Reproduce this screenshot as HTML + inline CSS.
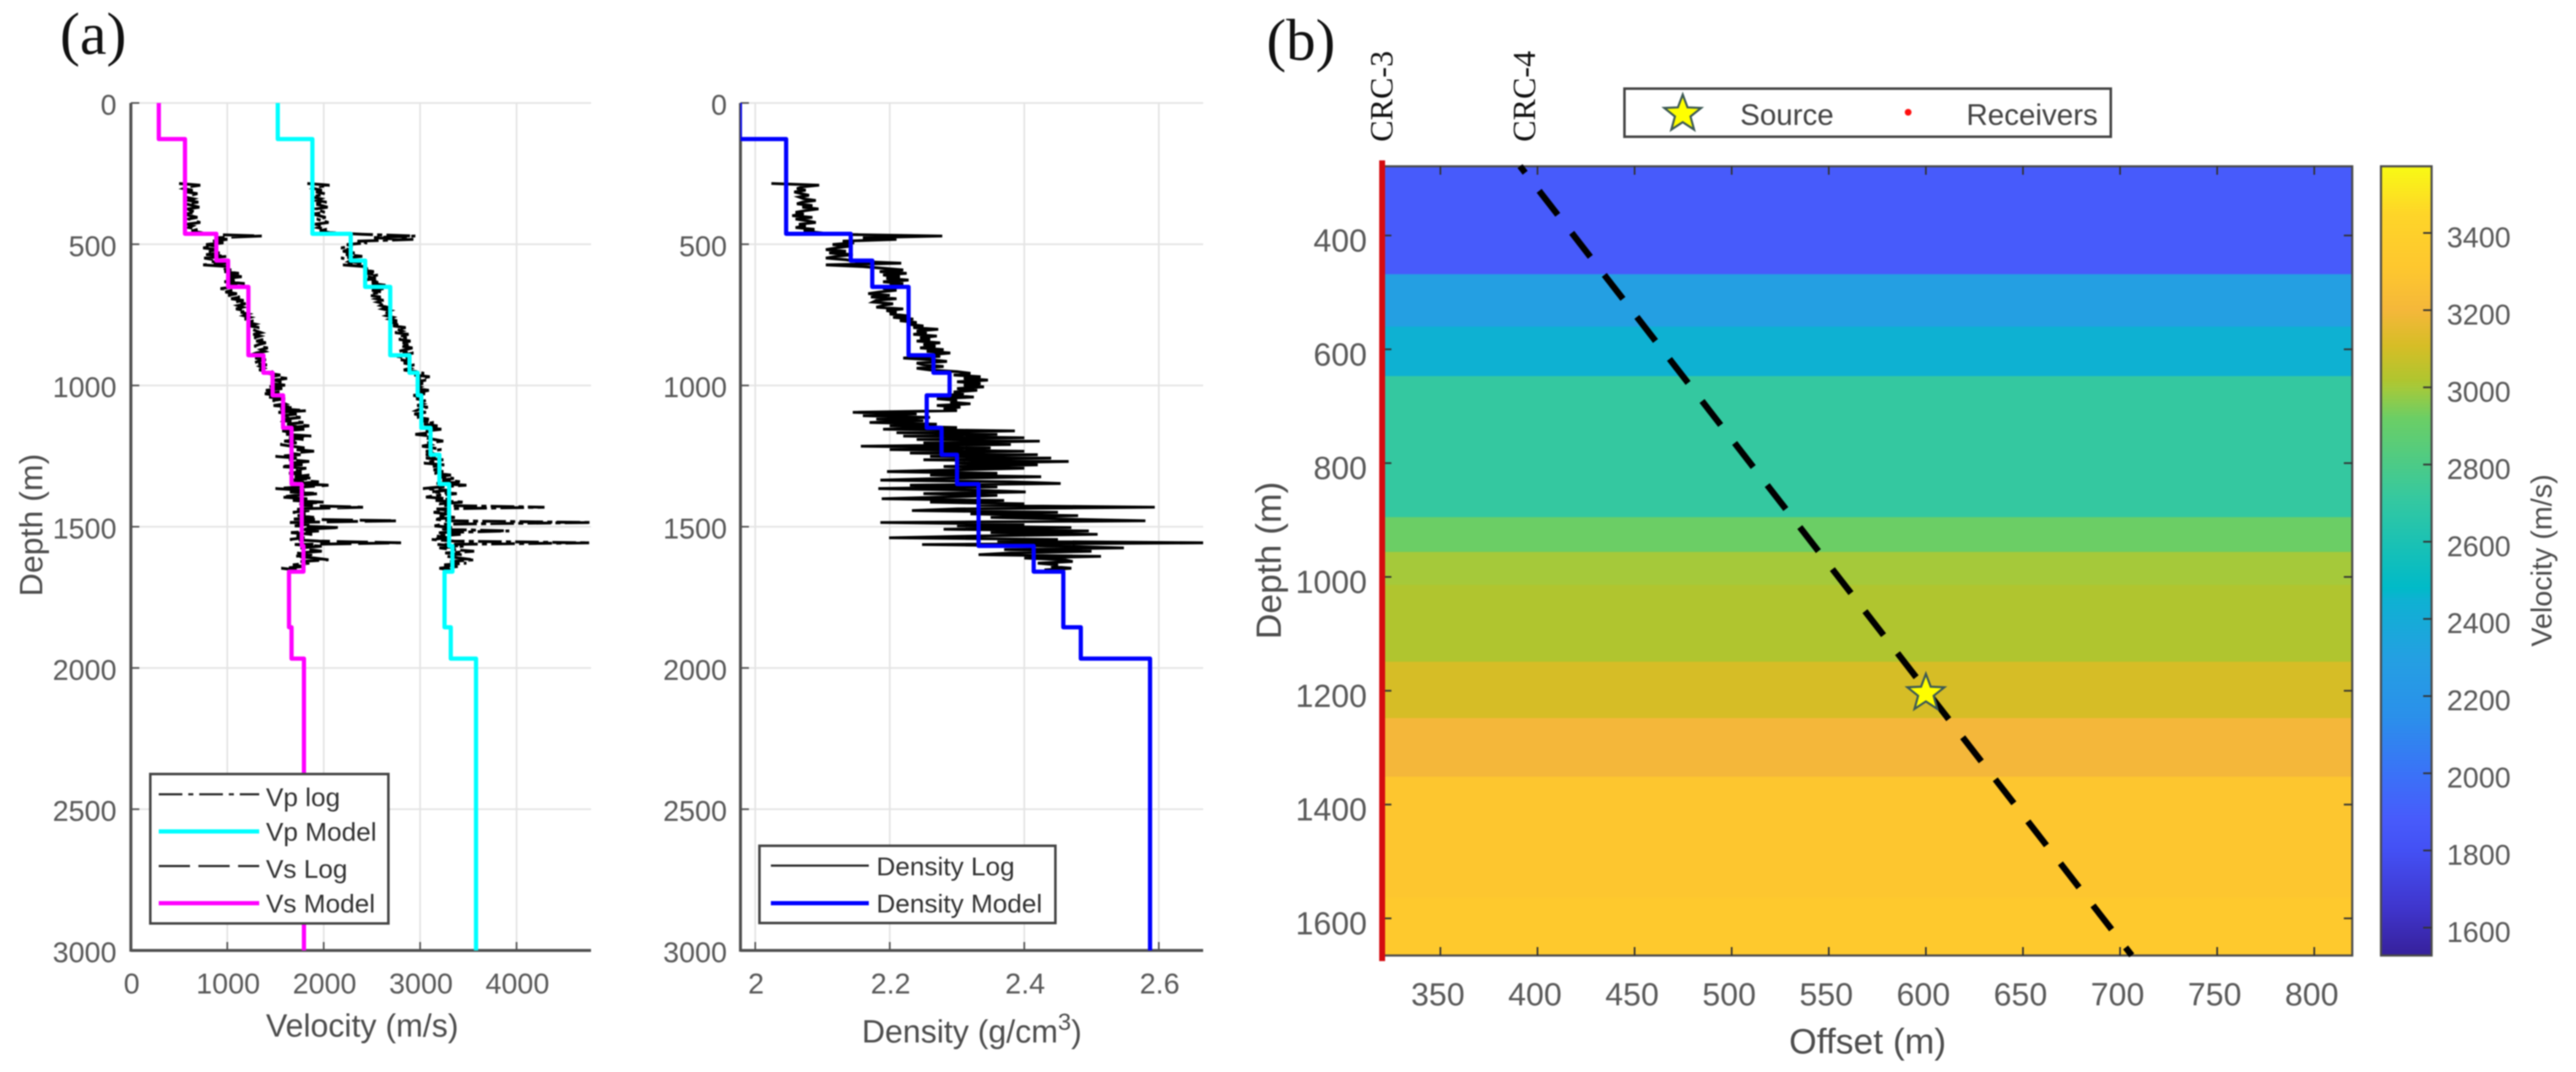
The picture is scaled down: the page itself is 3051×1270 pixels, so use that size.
<!DOCTYPE html>
<html lang="en">
<head>
<meta charset="utf-8">
<title>Velocity and density logs with survey model</title>
<style>
html,body{margin:0;padding:0;background:#fff;}
#figure{display:block;width:3051px;height:1270px;filter:blur(0.8px);}
text{font-family:"Liberation Sans",sans-serif;}
.serif{font-family:"Liberation Serif",serif;fill:#111;}
.tick{font-size:34px;fill:#595959;}
.title{font-size:38px;fill:#4d4d4d;}
.leg{font-size:31px;fill:#333;}
</style>
</head>
<body>
<svg id="figure" xmlns="http://www.w3.org/2000/svg" width="3051" height="1270" viewBox="0 0 3051 1270">
  <defs>
    <clipPath id="clip-vel"><rect x="155" y="110" width="545" height="1020"/></clipPath>
    <clipPath id="clip-den"><rect x="877" y="110" width="548" height="1020"/></clipPath>
    <linearGradient id="cbar-grad" x1="0" y1="1" x2="0" y2="0"></linearGradient>
  </defs>
  <rect x="0" y="0" width="3051" height="1270" fill="#fff"/>
  <text class="serif" x="71" y="64" font-size="71">(a)</text>
  <text class="serif" x="1500" y="71" font-size="70">(b)</text>

  <g id="vel-axes"></g>
  <text class="title" x="429" y="1228" text-anchor="middle">Velocity (m/s)</text>
  <text class="title" transform="translate(50,622) rotate(-90)" text-anchor="middle">Depth (m)</text>
  <g>
    <rect x="178" y="917" width="282" height="177" fill="#fff" stroke="#444" stroke-width="3"/>
    <line x1="188" y1="941" x2="307" y2="941" stroke="#222" stroke-width="2.5" stroke-dasharray="28 7 6 7"/>
    <text class="leg" x="315" y="955">Vp log</text>
    <line x1="188" y1="985" x2="307" y2="985" stroke="#00ffff" stroke-width="5"/>
    <text class="leg" x="315" y="996">Vp Model</text>
    <line x1="188" y1="1026" x2="307" y2="1026" stroke="#222" stroke-width="2.5" stroke-dasharray="37 10"/>
    <text class="leg" x="315" y="1040">Vs Log</text>
    <line x1="188" y1="1070" x2="307" y2="1070" stroke="#ff00ff" stroke-width="5"/>
    <text class="leg" x="315" y="1081">Vs Model</text>
  </g>

  <g id="den-axes"></g>
  <text class="title" x="1151" y="1235" text-anchor="middle">Density (g/cm<tspan font-size="28" dy="-15">3</tspan><tspan dy="15">)</tspan></text>
  <g>
    <rect x="899.5" y="1002" width="350.5" height="91.5" fill="#fff" stroke="#444" stroke-width="3"/>
    <line x1="913" y1="1025.5" x2="1029" y2="1025.5" stroke="#222" stroke-width="2.5"/>
    <text class="leg" x="1038" y="1037">Density Log</text>
    <line x1="913" y1="1070" x2="1029" y2="1070" stroke="#0000ff" stroke-width="5"/>
    <text class="leg" x="1038" y="1081">Density Model</text>
  </g>

  <g id="heat-axes"></g>
  <text class="title" style="font-size:42px" x="2212" y="1248" text-anchor="middle">Offset (m)</text>
  <text class="title" style="font-size:42px" transform="translate(1517,664) rotate(-90)" text-anchor="middle">Depth (m)</text>
  <text class="serif" font-size="38" transform="translate(1649,168) rotate(-90)">CRC-3</text>
  <text class="serif" font-size="38" transform="translate(1818,168) rotate(-90)">CRC-4</text>
  <g id="survey-legend">
    <rect x="1924" y="105" width="576" height="57" fill="#fff" stroke="#444" stroke-width="3"/>
    <text class="title" style="font-size:35px;fill:#444" x="2061" y="148">Source</text>
    <circle cx="2260" cy="133" r="4" fill="#ff1010"/>
    <text class="title" style="font-size:35px;fill:#444" x="2329" y="148">Receivers</text>
  </g>

  <g id="cbar"></g>
  <text class="title" style="font-size:34px" transform="translate(3022,664) rotate(-90)" text-anchor="middle">Velocity (m/s)</text>
</svg>

<script>
// ----- Layered model: tops of each layer (m) and values
const modelLayerTops = [0,128,463,558,651,893,955,1035,1150,1245,1349,1568,1659,1856,1967];
const vpModel = [1524,1883,2280,2430,2690,2890,2975,3012,3108,3200,3300,3335,3253,3318,3580];
const vsModel = [290,561,886,1009,1219,1375,1470,1579,1666,1666,1772,1790,1640,1666,1795];
const densityModel = [1.977,2.046,2.142,2.174,2.228,2.265,2.289,2.255,2.277,2.30,2.332,2.414,2.458,2.484,2.587];

// ----- Well logs, sampled every logDepthStep metres from logDepthStart
const logDepthStart = 285;
const logDepthStep = 6;
const vpLog = [
1830,2060,1950,1900,1980,1920,2010,1950,1880,1970,
1930,2030,1900,1980,2040,1920,1960,2010,1890,1950,
2020,1930,1990,2050,1910,1980,1940,2030,1960,2060,
2400,2950,2500,2930,2350,2450,2240,2300,2180,2260,
2200,2320,2230,2400,2180,2290,2260,2390,2200,2430,
2470,2400,2520,2440,2560,2460,2540,2420,2580,2500,
2640,2530,2620,2500,2600,2520,2480,2590,2540,2620,
2560,2630,2590,2660,2610,2690,2640,2700,2650,2720,
2680,2760,2700,2790,2720,2850,2760,2810,2740,2880,
2790,2860,2780,2900,2820,2880,2800,2920,2850,2780,
2930,2840,2760,2880,2800,2900,2830,2940,2860,2900,
2830,2960,3040,2940,3100,2980,3060,2960,3030,2950,
3000,2950,3090,2990,3050,2930,3020,2960,3060,2980,
3030,2970,3080,3000,2960,3060,2940,3030,2970,3090,
3000,3140,3040,3180,3020,3220,3060,3110,2950,3120,
3050,3140,3240,3070,3110,3020,3130,3220,3060,3120,
3060,3160,3060,3240,3120,3040,3250,3130,3220,3140,
3240,3150,3320,3180,3350,3230,3430,3170,3480,3220,
3030,3280,3120,3380,3180,3060,3300,3160,3460,3200,
3240,4290,3170,3310,3140,3280,3200,3360,3150,3290,
4772,3240,3150,3330,3210,3925,3180,3420,3170,3290,
3120,3350,4755,3180,3450,3200,3340,3560,3260,3430,
3280,3400,3560,3310,3480,3250,3390,3200,3330,3280];
const vsLog = [
500,720,600,550,640,580,690,620,560,650,
600,700,570,640,710,590,620,680,560,610,
690,600,650,720,580,640,600,700,630,727,
800,1357,900,1000,850,960,780,880,750,900,
810,920,780,1000,760,870,830,1010,750,1020,
950,1040,970,1120,1020,1150,990,1080,970,1180,
1010,1060,930,1050,980,1100,1010,1130,1040,1170,
1080,1190,1110,1160,1090,1200,1140,1220,1170,1240,
1180,1270,1210,1290,1230,1330,1260,1300,1350,1270,
1340,1280,1370,1300,1400,1330,1280,1420,1350,1390,
1300,1250,1360,1290,1400,1320,1270,1410,1340,1380,
1330,1470,1420,1550,1450,1620,1480,1560,1450,1600,
1420,1570,1400,1540,1390,1520,1430,1600,1470,1560,
1600,1480,1690,1550,1820,1530,1720,1560,1760,1600,
1580,1790,1620,1850,1660,1800,1570,1700,1610,1870,
1640,1790,1590,1720,1550,1660,1800,1700,1900,1650,
1760,1500,1720,1640,1850,1620,1780,1550,1820,1690,
1770,1640,1850,1700,1880,1650,1950,1720,2050,1800,
1500,1800,1650,1950,1700,1560,1830,1680,2000,1750,
1800,2408,1700,1850,1680,1810,1730,1900,1690,2758,
1650,1850,1700,2172,1750,1950,1660,1880,1720,1800,
1650,1950,2802,1700,1980,1760,1850,1980,1720,1880,
1700,1900,2050,1760,1850,1680,1790,1560,1720,1650];
const densityLog = [
2.024,2.095,2.07,2.062,2.075,2.058,2.068,2.08,2.065,2.072,
2.09,2.07,2.062,2.085,2.07,2.094,2.075,2.06,2.072,2.055,
2.085,2.06,2.078,2.09,2.065,2.075,2.06,2.088,2.072,2.095,
2.12,2.278,2.16,2.21,2.13,2.147,2.115,2.14,2.12,2.105,
2.135,2.11,2.145,2.12,2.105,2.135,2.15,2.217,2.105,2.16,
2.19,2.22,2.185,2.225,2.19,2.215,2.195,2.228,2.19,2.22,
2.2,2.225,2.19,2.21,2.185,2.168,2.2,2.172,2.21,2.18,
2.175,2.205,2.19,2.18,2.22,2.195,2.21,2.2,2.225,2.205,
2.235,2.215,2.24,2.225,2.25,2.235,2.272,2.24,2.255,2.235,
2.27,2.245,2.26,2.24,2.275,2.25,2.268,2.245,2.28,2.255,
2.29,2.26,2.275,2.22,2.262,2.285,2.24,2.25,2.28,2.24,
2.26,2.3,2.32,2.295,2.335,2.31,2.346,2.3,2.335,2.31,
2.34,2.3,2.33,2.295,2.31,2.285,2.325,2.27,2.3,2.29,
2.32,2.27,2.305,2.28,2.3,2.145,2.24,2.16,2.26,2.18,
2.25,2.17,2.27,2.2,2.3,2.19,2.386,2.21,2.36,2.22,
2.4,2.24,2.423,2.25,2.38,2.157,2.35,2.2,2.4,2.23,
2.42,2.26,2.44,2.25,2.466,2.3,2.42,2.28,2.4,2.3,
2.196,2.36,2.26,2.425,2.28,2.186,2.38,2.454,2.23,2.36,
2.183,2.33,2.402,2.25,2.36,2.28,2.188,2.37,2.26,2.4,
2.33,2.594,2.3,2.233,2.45,2.32,2.48,2.35,2.46,2.58,
2.186,2.4,2.3,2.47,2.28,2.496,2.35,2.509,2.33,2.199,
2.45,2.36,2.67,2.248,2.46,2.548,2.37,2.5,2.38,2.332,
2.514,2.4,2.46,2.472,2.42,2.45,2.44,2.47,2.43,2.45];

// ----- Tick labels
const depthTicks = [0,500,1000,1500,2000,2500,3000];
const velocityTicks = [0,1000,2000,3000,4000];
const densityTicks = [2,2.2,2.4,2.6];
const offsetTicks = [350,400,450,500,550,600,650,700,750,800];
const modelDepthTicks = [400,600,800,1000,1200,1400,1600];
const colorbarTicks = [1600,1800,2000,2200,2400,2600,2800,3000,3200,3400];

// ----- Velocity model image (panel b)
const heatLayerTops = [278,468,560,647,895,956,1014,1149,1248,1351,1564];
const heatLayerVelocity = [1883,2295,2450,2710,2920,3000,3020,3108,3200,3300,3335];
const heatBottomDepth = 1665;
const wellOffset = [391,706];
const wellDepth = [278,1665];
const receiverOffset = [320,320];
const receiverDepth = [268,1675];
const sourceOffset = [600];
const sourceDepth = [1200];

// ----- Colormap: velocity -> colour
const colormapVelocity = [1528,1650,1800,1883,2000,2150,2295,2450,2480,2710,2920,3000,3020,3108,3200,3300,3335,3450,3573];
const colormapColor = ['#36209a','#3f35cc','#4350f4','#475bfb','#3a72f7','#2a90ea','#249fe2','#0eb1d2','#00bac8','#34c8a0','#6bce65','#a5c93a','#b0c52f','#d6bd26','#f4b73a','#fdc62f','#fec92d','#fed528','#f8fa14'];

const SVGNS = 'http://www.w3.org/2000/svg';
function linear(d0, d1, r0, r1) {
  return function (v) { return r0 + (v - d0) * (r1 - r0) / (d1 - d0); };
}
const velX = linear(0, 4000, 155, 611.8);
const logY = linear(0, 3000, 122, 1126);
const denX = linear(2, 2.6, 894.5, 1372.5);
const offX = linear(350, 800, 1706, 2741);
const modelY = linear(400, 1600, 279, 1088);
const cbarY = linear(1600, 3400, 1099, 276);

function hexToRgb(h) {
  return [parseInt(h.slice(1,3),16), parseInt(h.slice(3,5),16), parseInt(h.slice(5,7),16)];
}
function colorFor(v) {
  const n = colormapVelocity.length;
  if (v <= colormapVelocity[0]) return colormapColor[0];
  if (v >= colormapVelocity[n-1]) return colormapColor[n-1];
  let i = 0;
  while (colormapVelocity[i+1] < v) i++;
  const t = (v - colormapVelocity[i]) / (colormapVelocity[i+1] - colormapVelocity[i]);
  const a = hexToRgb(colormapColor[i]);
  const b = hexToRgb(colormapColor[i+1]);
  return 'rgb(' + a.map(function (c, k) { return Math.round(c + (b[k]-c)*t); }).join(',') + ')';
}
function make(tag, attrs, parent) {
  const el = document.createElementNS(SVGNS, tag);
  for (const k in attrs) el.setAttribute(k, attrs[k]);
  parent.appendChild(el);
  return el;
}
function stepPoints(values, xFn) {
  const pts = [];
  for (let i = 0; i < values.length; i++) {
    const y0 = logY(modelLayerTops[i]);
    const y1 = logY(i + 1 < values.length ? modelLayerTops[i+1] : 3000);
    pts.push(xFn(values[i]).toFixed(1) + ',' + y0.toFixed(1));
    pts.push(xFn(values[i]).toFixed(1) + ',' + y1.toFixed(1));
  }
  return pts.join(' ');
}
function logPoints(values, xFn) {
  return values.map(function (v, i) {
    return xFn(v).toFixed(1) + ',' + logY(logDepthStart + i * logDepthStep).toFixed(1);
  }).join(' ');
}
function starPoints(cx, cy, r) {
  const pts = [];
  for (let i = 0; i < 10; i++) {
    const rad = i % 2 ? r * 0.42 : r;
    const a = -Math.PI / 2 + i * Math.PI / 5;
    pts.push((cx + rad * Math.cos(a)).toFixed(1) + ',' + (cy + rad * Math.sin(a)).toFixed(1));
  }
  return pts.join(' ');
}

// Shared axes for the log panels
function drawLogAxes(parent, left, right, xTicks, xFn, labelRight) {
  depthTicks.forEach(function (d) {
    const y = logY(d);
    if (d !== 3000) {
      const g = make('line', {x1:left, x2:right, y1:y, y2:y, stroke:'#e4e4e4', 'stroke-width':2}, parent);
      
      
    }
    const t = make('line', {x1:left, x2:left+10, y1:y, y2:y, stroke:'#555', 'stroke-width':2}, parent);
    
    
    const lab = make('text', {x:labelRight, y:y+14, 'text-anchor':'end', class:'tick'}, parent);
    lab.textContent = String(d);
    
    
  });
  xTicks.forEach(function (v) {
    const x = xFn(v);
    if (x > left + 1) {
      const g = make('line', {x1:x, x2:x, y1:122, y2:1126, stroke:'#e4e4e4', 'stroke-width':2}, parent);
      
      
    }
    const t = make('line', {x1:x, x2:x, y1:1126, y2:1116, stroke:'#555', 'stroke-width':2}, parent);
    
    
    const lab = make('text', {x:x+1, y:1177, 'text-anchor':'middle', class:'tick'}, parent);
    lab.textContent = String(v);
    
    
  });
  const ya = make('line', {x1:left, x2:left, y1:122, y2:1127.5, stroke:'#4f4f4f', 'stroke-width':3.5}, parent);
  
  
  const xa = make('line', {x1:left, x2:right, y1:1126, y2:1126, stroke:'#4f4f4f', 'stroke-width':3.5}, parent);
  
  
}

// Panel a-1: velocity
const velAxes = document.getElementById('vel-axes');
drawLogAxes(velAxes, 155, 700, velocityTicks, velX, 138);
const velPlot = make('g', {'clip-path':'url(#clip-vel)'}, velAxes);


const vpLogLine = make('polyline', {points:logPoints(vpLog, velX), fill:'none', stroke:'#000', 'stroke-width':3.4, 'stroke-dasharray':'28 5 6 5'}, velPlot);


const vsLogLine = make('polyline', {points:logPoints(vsLog, velX), fill:'none', stroke:'#000', 'stroke-width':3.4, 'stroke-dasharray':'37 8'}, velPlot);


const vpLine = make('polyline', {points:stepPoints(vpModel, velX), fill:'none', stroke:'#00ffff', 'stroke-width':5, 'stroke-linejoin':'round'}, velPlot);


const vsLine = make('polyline', {points:stepPoints(vsModel, velX), fill:'none', stroke:'#ff00ff', 'stroke-width':5, 'stroke-linejoin':'round'}, velPlot);



// Panel a-2: density
const denAxes = document.getElementById('den-axes');
drawLogAxes(denAxes, 877, 1425, densityTicks, denX, 861);
const denPlot = make('g', {'clip-path':'url(#clip-den)'}, denAxes);


const denLogLine = make('polyline', {points:logPoints(densityLog, denX), fill:'none', stroke:'#000', 'stroke-width':3.3}, denPlot);


const denLine = make('polyline', {points:stepPoints(densityModel, denX), fill:'none', stroke:'#0000ff', 'stroke-width':5, 'stroke-linejoin':'round'}, denPlot);



// Panel b: layered model
const heatAxes = document.getElementById('heat-axes');
const heatLeft = 1638, heatRight = 2786, heatTop = 197, heatBottom = 1132;
heatLayerTops.forEach(function (top, i) {
  const bottom = i + 1 < heatLayerTops.length ? heatLayerTops[i+1] : heatBottomDepth;
  const y0 = modelY(top), y1 = modelY(bottom);
  const r = make('rect', {x:heatLeft, y:y0, width:heatRight-heatLeft, height:y1-y0+0.5, fill:colorFor(heatLayerVelocity[i])}, heatAxes);
  
  
});
const frame = make('rect', {x:heatLeft, y:heatTop, width:heatRight-heatLeft, height:heatBottom-heatTop, fill:'none', stroke:'#4a4a4a', 'stroke-width':2.5}, heatAxes);


offsetTicks.forEach(function (v) {
  const x = offX(v);
  const t1 = make('line', {x1:x, x2:x, y1:heatTop, y2:heatTop+10, stroke:'#333', 'stroke-width':2}, heatAxes);
  
  
  const t2 = make('line', {x1:x, x2:x, y1:heatBottom, y2:heatBottom-10, stroke:'#333', 'stroke-width':2}, heatAxes);
  
  
  const lab = make('text', {x:x-3, y:1191, 'text-anchor':'middle', class:'tick', style:'font-size:38px'}, heatAxes);
  lab.textContent = String(v);
  
  
});
modelDepthTicks.forEach(function (d) {
  const y = modelY(d);
  const t1 = make('line', {x1:heatLeft, x2:heatLeft+10, y1:y, y2:y, stroke:'#333', 'stroke-width':2}, heatAxes);
  
  
  const t2 = make('line', {x1:heatRight, x2:heatRight-10, y1:y, y2:y, stroke:'#333', 'stroke-width':2}, heatAxes);
  
  
  const lab = make('text', {x:1619, y:y+19, 'text-anchor':'end', class:'tick', style:'font-size:38px'}, heatAxes);
  lab.textContent = String(d);
  
  
});
const wellPts = wellOffset.map(function (o, i) { return offX(o).toFixed(1) + ',' + modelY(wellDepth[i]).toFixed(1); }).join(' ');
const wellLine = make('polyline', {points:wellPts, fill:'none', stroke:'#000', 'stroke-width':7.5, 'stroke-dasharray':'36 27', 'stroke-dashoffset':26}, heatAxes);


const recvPts = receiverOffset.map(function (o, i) { return offX(o).toFixed(1) + ',' + modelY(receiverDepth[i]).toFixed(1); }).join(' ');
const recvLine = make('polyline', {points:recvPts, fill:'none', stroke:'#d40c10', 'stroke-width':7}, heatAxes);


sourceOffset.forEach(function (o, i) {
  const s = make('polygon', {points:starPoints(offX(o), modelY(sourceDepth[i]) + 3, 23), fill:'#ffff00', stroke:'#3d5a55', 'stroke-width':2.5}, heatAxes);
  
  
});
const legendStar = make('polygon', {points:starPoints(1993, 135, 23), fill:'#ffff00', stroke:'#3d5a55', 'stroke-width':2.5}, document.getElementById('survey-legend'));



// Colorbar
const grad = document.getElementById('cbar-grad');
const cbarLo = colormapVelocity[0], cbarHi = colormapVelocity[colormapVelocity.length-1];
colormapVelocity.forEach(function (v, i) {
  const st = document.createElementNS(SVGNS, 'stop');
  st.setAttribute('offset', ((v - cbarLo) / (cbarHi - cbarLo)).toFixed(4));
  st.setAttribute('stop-color', colormapColor[i]);
  grad.appendChild(st);
});
const cbar = document.getElementById('cbar');
const cbarRect = make('rect', {x:2820, y:197, width:60, height:935, fill:'url(#cbar-grad)', stroke:'#4a4a4a', 'stroke-width':2.5}, cbar);


colorbarTicks.forEach(function (v) {
  const y = cbarY(v);
  const t = make('line', {x1:2880, x2:2870, y1:y, y2:y, stroke:'#333', 'stroke-width':2}, cbar);
  
  
  const lab = make('text', {x:2898, y:y+17, class:'tick'}, cbar);
  lab.textContent = String(v);
  
  
});
</script>
</body>
</html>
